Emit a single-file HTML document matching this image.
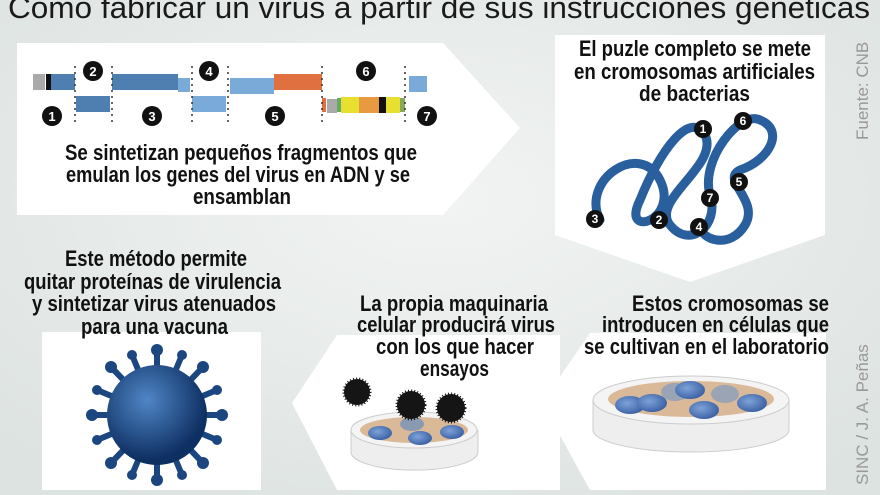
<!DOCTYPE html>
<html><head><meta charset="utf-8"><style>
html,body{margin:0;padding:0;background:#e4e9e7;}
svg{display:block;}
.t{font-family:"Liberation Sans",sans-serif;font-weight:bold;fill:#111;}
</style></head><body>
<svg width="880" height="495" viewBox="0 0 880 495" xmlns="http://www.w3.org/2000/svg">
<defs>
<radialGradient id="bg" cx="0.5" cy="0.4" r="0.7"><stop offset="0" stop-color="#f2f4f3"/><stop offset="1" stop-color="#dde3e1"/></radialGradient>
<radialGradient id="vir" cx="0.4" cy="0.35" r="0.6"><stop offset="0" stop-color="#4f86c6"/><stop offset="1" stop-color="#0e2f62"/></radialGradient>
<radialGradient id="cell" cx="0.4" cy="0.4" r="0.6"><stop offset="0" stop-color="#7ea3d8"/><stop offset="1" stop-color="#3e64a8"/></radialGradient>
</defs>
<rect width="880" height="495" fill="url(#bg)"/>
<text x="8" y="18" textLength="862" lengthAdjust="spacingAndGlyphs" font-family="Liberation Sans,sans-serif" font-size="31" fill="#1a1a1a">Como fabricar un virus a partir de sus instrucciones genéticas</text>

<polygon points="17,43 443,43 520,128 443,215 17,215" fill="#fff"/>
<polygon points="555,35 825,35 825,235 690,282 555,235" fill="#fff"/>
<rect x="42" y="332" width="219" height="158" fill="#fff"/>
<polygon points="337,335 560,335 560,490 337,490 292,403" fill="#fff"/>
<polygon points="590,333 826,333 826,490 590,490 542,403" fill="#fff"/>

<g>
<rect x="33" y="74" width="12" height="16" fill="#aaa"/>
<rect x="46" y="74" width="5" height="16" fill="#111"/>
<rect x="51" y="74" width="24" height="16" fill="#4f7fb0"/>
<rect x="76" y="96" width="34" height="16" fill="#4f7fb0"/>
<rect x="112" y="74" width="66" height="16" fill="#4f7fb0"/>
<rect x="178" y="78" width="12" height="14" fill="#7aaad8"/>
<rect x="192" y="96" width="34" height="16" fill="#7aaad8"/>
<rect x="230" y="78" width="44" height="16" fill="#7aaad8"/>
<rect x="274" y="74" width="48" height="16" fill="#e07040"/>
<rect x="322" y="98" width="4" height="14" fill="#e07040"/>
<rect x="327" y="99" width="10" height="14" fill="#aaa"/>
<rect x="337" y="98" width="4" height="14" fill="#6a6"/>
<rect x="341" y="97" width="18" height="16" fill="#e8e030"/>
<rect x="359" y="97" width="20" height="16" fill="#e89a40"/>
<rect x="379" y="97" width="7" height="16" fill="#111"/>
<rect x="386" y="97" width="14" height="16" fill="#e8e030"/>
<rect x="400" y="98" width="5" height="14" fill="#8a5"/>
<rect x="409" y="76" width="18" height="16" fill="#7aaad8"/>
<g stroke="#333" stroke-width="1.5" stroke-dasharray="2,4">
<line x1="75" y1="66" x2="75" y2="125"/><line x1="112" y1="66" x2="112" y2="125"/>
<line x1="192" y1="66" x2="192" y2="125"/><line x1="228" y1="66" x2="228" y2="125"/>
<line x1="322" y1="66" x2="322" y2="125"/><line x1="405" y1="66" x2="405" y2="125"/>
</g>
<g font-family="Liberation Sans,sans-serif" font-weight="bold" font-size="13" fill="#fff" text-anchor="middle">
<circle cx="52" cy="116" r="10" fill="#111"/><text x="52" y="121">1</text>
<circle cx="93" cy="71" r="10" fill="#111"/><text x="93" y="76">2</text>
<circle cx="152" cy="116" r="10" fill="#111"/><text x="152" y="121">3</text>
<circle cx="209" cy="71" r="10" fill="#111"/><text x="209" y="76">4</text>
<circle cx="275" cy="116" r="10" fill="#111"/><text x="275" y="121">5</text>
<circle cx="366" cy="71" r="10" fill="#111"/><text x="366" y="76">6</text>
<circle cx="427" cy="116" r="10" fill="#111"/><text x="427" y="121">7</text>
</g>
</g>
<g class="t" font-size="22">
<text x="65" y="160" textLength="352" lengthAdjust="spacingAndGlyphs">Se sintetizan pequeños fragmentos que</text>
<text x="66" y="182" textLength="344" lengthAdjust="spacingAndGlyphs">emulan los genes del virus en ADN y se</text>
<text x="193" y="204" textLength="98" lengthAdjust="spacingAndGlyphs">ensamblan</text>
<text x="579" y="56" textLength="232" lengthAdjust="spacingAndGlyphs">El puzle completo se mete</text>
<text x="574" y="79" textLength="241" lengthAdjust="spacingAndGlyphs">en cromosomas artificiales</text>
<text x="639" y="101" textLength="111" lengthAdjust="spacingAndGlyphs">de bacterias</text>
<text x="65" y="266" textLength="182" lengthAdjust="spacingAndGlyphs">Este método permite</text>
<text x="24" y="289" textLength="257" lengthAdjust="spacingAndGlyphs">quitar proteínas de virulencia</text>
<text x="32" y="311" textLength="244" lengthAdjust="spacingAndGlyphs">y sintetizar virus atenuados</text>
<text x="81" y="334" textLength="147" lengthAdjust="spacingAndGlyphs">para una vacuna</text>
<text x="360" y="311" textLength="188" lengthAdjust="spacingAndGlyphs">La propia maquinaria</text>
<text x="357" y="332" textLength="198" lengthAdjust="spacingAndGlyphs">celular producirá virus</text>
<text x="376" y="354" textLength="158" lengthAdjust="spacingAndGlyphs">con los que hacer</text>
<text x="420" y="376" textLength="69" lengthAdjust="spacingAndGlyphs">ensayos</text>
<text x="632" y="311" textLength="197" lengthAdjust="spacingAndGlyphs">Estos cromosomas se</text>
<text x="602" y="332" textLength="227" lengthAdjust="spacingAndGlyphs">introducen en células que</text>
<text x="584" y="354" textLength="245" lengthAdjust="spacingAndGlyphs">se cultivan en el laboratorio</text>
</g>
<text transform="translate(868,140) rotate(-90)" font-family="Liberation Sans,sans-serif" font-size="17" fill="#999">Fuente: CNB</text>
<text transform="translate(868,485) rotate(-90)" font-family="Liberation Sans,sans-serif" font-size="17" fill="#999">SINC / J. A. Peñas</text>

<g fill="none" stroke="#2a5f9e" stroke-width="9" stroke-linecap="round">
<path d="M600,220 C580,180 640,140 660,180 C680,220 620,240 640,200 C660,150 690,110 705,135 C720,165 650,200 670,225 C690,250 720,225 710,195 C700,160 740,110 760,120 C785,130 770,160 740,170 C720,180 760,200 745,225 C730,250 700,240 700,225"/>
</g>
<g font-family="Liberation Sans,sans-serif" font-weight="bold" font-size="12" fill="#fff" text-anchor="middle">
<circle cx="703" cy="129" r="9" fill="#111"/><text x="703" y="133">1</text>
<circle cx="743" cy="121" r="9" fill="#111"/><text x="743" y="125">6</text>
<circle cx="739" cy="182" r="9" fill="#111"/><text x="739" y="186">5</text>
<circle cx="710" cy="198" r="9" fill="#111"/><text x="710" y="202">7</text>
<circle cx="595" cy="219" r="9" fill="#111"/><text x="595" y="223">3</text>
<circle cx="659" cy="220" r="9" fill="#111"/><text x="659" y="224">2</text>
<circle cx="699" cy="227" r="9" fill="#111"/><text x="699" y="231">4</text>
</g>

<g>
<g stroke="#1c4680" stroke-width="6" stroke-linecap="round">
<line x1="157" y1="415" x2="157" y2="350"/><line x1="157" y1="415" x2="203" y2="367"/>
<line x1="157" y1="415" x2="222" y2="415"/><line x1="157" y1="415" x2="203" y2="463"/>
<line x1="157" y1="415" x2="157" y2="480"/><line x1="157" y1="415" x2="111" y2="463"/>
<line x1="157" y1="415" x2="92" y2="415"/><line x1="157" y1="415" x2="111" y2="367"/>
<line x1="157" y1="415" x2="132" y2="355"/><line x1="157" y1="415" x2="182" y2="355"/>
<line x1="157" y1="415" x2="217" y2="390"/><line x1="157" y1="415" x2="217" y2="440"/>
<line x1="157" y1="415" x2="182" y2="475"/><line x1="157" y1="415" x2="132" y2="475"/>
<line x1="157" y1="415" x2="97" y2="440"/><line x1="157" y1="415" x2="97" y2="390"/>
</g>
<g fill="#1c4680">
<circle cx="157" cy="350" r="6"/><circle cx="203" cy="367" r="6"/><circle cx="222" cy="415" r="6"/><circle cx="203" cy="463" r="6"/>
<circle cx="157" cy="480" r="6"/><circle cx="111" cy="463" r="6"/><circle cx="92" cy="415" r="6"/><circle cx="111" cy="367" r="6"/>
<circle cx="132" cy="355" r="5"/><circle cx="182" cy="355" r="5"/><circle cx="217" cy="390" r="5"/><circle cx="217" cy="440" r="5"/>
<circle cx="182" cy="475" r="5"/><circle cx="132" cy="475" r="5"/><circle cx="97" cy="440" r="5"/><circle cx="97" cy="390" r="5"/>
</g>
<circle cx="157" cy="415" r="50" fill="url(#vir)"/>
</g>

<g>
<path d="M351,430 v22 a63,18 0 0 0 127,0 v-22" fill="#eee" stroke="#ccc"/>
<ellipse cx="414" cy="430" rx="63" ry="18" fill="#f4f4f4" stroke="#ccc"/>
<ellipse cx="414" cy="430" rx="54" ry="13" fill="#d9b998"/>
<ellipse cx="380" cy="433" rx="12" ry="7" fill="url(#cell)"/>
<ellipse cx="420" cy="438" rx="12" ry="7" fill="url(#cell)"/>
<ellipse cx="452" cy="432" rx="12" ry="7" fill="url(#cell)"/>
<ellipse cx="412" cy="424" rx="12" ry="7" fill="#8a9ab0"/>
<circle cx="357" cy="392" r="13" fill="#151515" stroke="#151515" stroke-width="3" stroke-dasharray="1,2"/>
<circle cx="411" cy="405" r="14" fill="#151515" stroke="#151515" stroke-width="3" stroke-dasharray="1,2"/>
<circle cx="451" cy="408" r="14" fill="#151515" stroke="#151515" stroke-width="3" stroke-dasharray="1,2"/>
</g>
<g>
<path d="M593,400 v30 a98,22 0 0 0 196,0 v-30" fill="#eee" stroke="#ccc"/>
<ellipse cx="691" cy="400" rx="98" ry="24" fill="#f4f4f4" stroke="#ccc"/>
<ellipse cx="691" cy="399" rx="83" ry="18" fill="#d9b998"/>
<ellipse cx="675" cy="392" rx="14" ry="9" fill="#9aa4b4"/>
<ellipse cx="725" cy="394" rx="14" ry="9" fill="#9aa4b4"/>
<ellipse cx="630" cy="405" rx="15" ry="9" fill="url(#cell)"/>
<ellipse cx="652" cy="403" rx="15" ry="9" fill="url(#cell)"/>
<ellipse cx="690" cy="390" rx="15" ry="9" fill="url(#cell)"/>
<ellipse cx="704" cy="410" rx="15" ry="9" fill="url(#cell)"/>
<ellipse cx="752" cy="403" rx="15" ry="9" fill="url(#cell)"/>
</g>
</svg>
</body></html>
